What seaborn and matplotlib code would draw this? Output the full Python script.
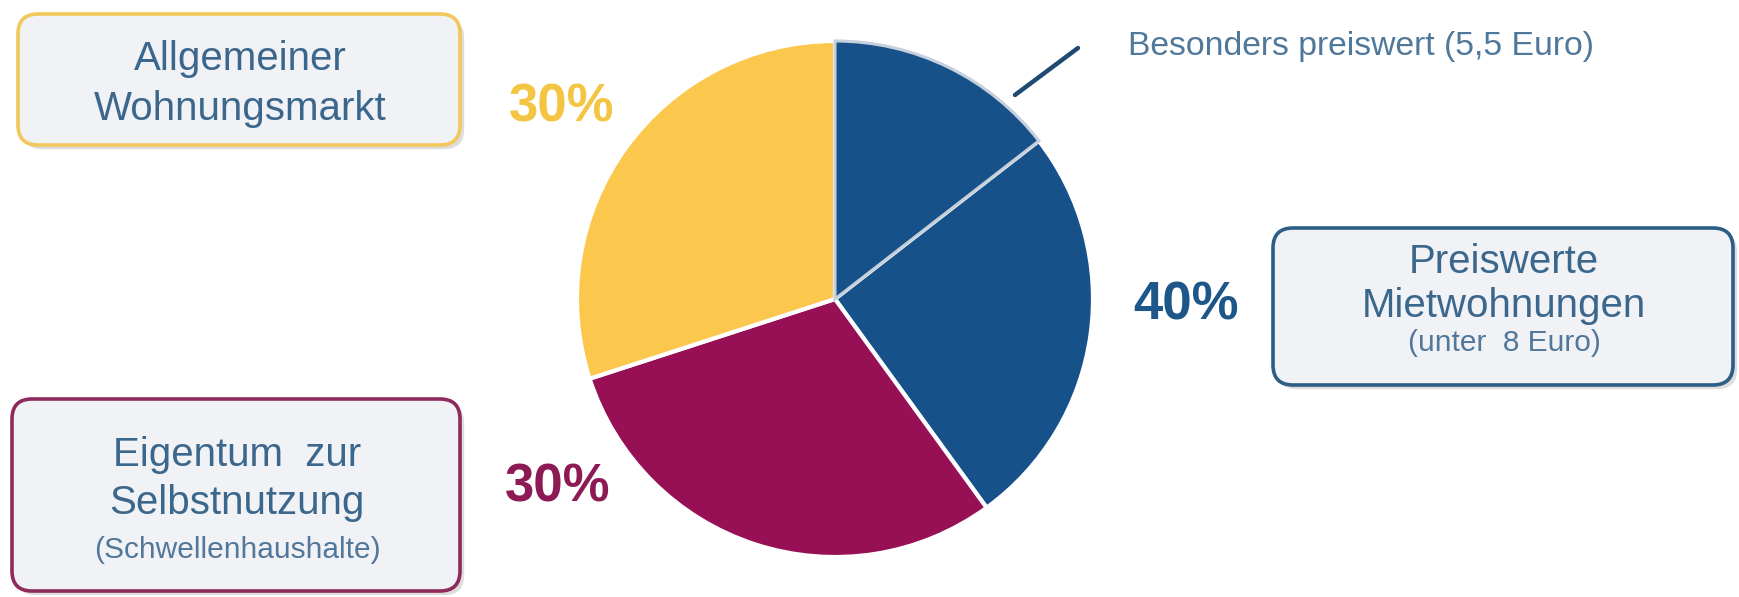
import matplotlib
matplotlib.use("Agg")
import matplotlib.pyplot as plt
import matplotlib.patheffects as pe
from matplotlib.patches import FancyBboxPatch
import seaborn as sns

sns.set_theme(style="white")
plt.rcParams["font.family"] = ["Liberation Sans", "DejaVu Sans"]

# ---- data ----
segments = ["Besonders preiswert (5,5 Euro)", "Preiswerte Mietwohnungen (Rest)",
            "Eigentum zur Selbstnutzung", "Allgemeiner Wohnungsmarkt"]
shares = [14.5, 25.5, 30, 30]
seg_colors = ["#17518A", "#17518A", "#970F55", "#FBC74C"]
pct_labels = ["30%", "40%", "30%"]
pct_colors = ["#F4C443", "#1D5688", "#8E1A55"]
box_titles = ["Allgemeiner\nWohnungsmarkt",
              "Preiswerte\nMietwohnungen",
              "Eigentum  zur\nSelbstnutzung"]
box_subtitles = ["", "(unter  8 Euro)", "(Schwellenhaushalte)"]
box_edges = ["#F2C75C", "#2C5E86", "#8E2A5C"]
callout = "Besonders preiswert (5,5 Euro)"

W, H = 1739, 597
fig = plt.figure(figsize=(W / 100, H / 100), dpi=100)
fig.patch.set_facecolor("white")
ax = fig.add_axes([0, 0, 1, 1])

def fy(y):
    return H - y

wedges, _ = ax.pie(
    shares, colors=seg_colors, startangle=90, counterclock=False,
    center=(835, fy(299)), radius=258, explode=[0, 0, 0.015, 0],
    wedgeprops=dict(edgecolor="white", linewidth=3),
)
wedges[0].set_edgecolor("#C6D0DC")
wedges[0].set_linewidth(2.2)
wedges[0].set_zorder(3)

ax.set_xlim(0, W)
ax.set_ylim(0, H)
ax.set_aspect("equal")
ax.axis("off")

# percentage labels
pct_pos = [(562, 108), (1186, 306), (558, 488)]
for lab, col, (x, y) in zip(pct_labels, pct_colors, pct_pos):
    ax.text(x, fy(y), lab, color=col, fontsize=38, fontweight="bold",
            ha="center", va="center")

# boxes
boxes = [(18, 14, 442, 131), (1273, 228, 460, 157), (12, 399, 448, 192)]
title_pos = [(240, 84), (1504, 284), (237, 479)]
title_spacing = [1.38, 1.22, 1.3]
sub_pos = [None, (1504, 343), (237, 550)]
text_col = "#3B678C"
for (x0, y0, w, h), ec, t, s, tp, sp, ls in zip(boxes, box_edges, box_titles,
                                               box_subtitles, title_pos,
                                               sub_pos, title_spacing):
    patch = FancyBboxPatch((x0, fy(y0 + h)), w, h,
                           boxstyle="round,pad=0,rounding_size=20",
                           facecolor="#F1F2F6", edgecolor=ec, linewidth=2.6,
                           zorder=2)
    patch.set_path_effects([pe.SimplePatchShadow(offset=(3, -3), alpha=0.25,
                                                 shadow_rgbFace="#7a7a7a"),
                            pe.Normal()])
    ax.add_patch(patch)
    ax.text(tp[0], fy(tp[1]), t, color=text_col, fontsize=29, ha="center",
            va="center", linespacing=ls, zorder=4)
    if s:
        ax.text(sp[0], fy(sp[1]), s, color="#51779A", fontsize=21.5,
                ha="center", va="center", zorder=4)

# callout
ax.plot([1015, 1078], [fy(95), fy(48)], color="#1F4A72", linewidth=3.2,
        solid_capstyle="round")
ax.text(1128, fy(47), callout, color="#50789A", fontsize=24.3, ha="left",
        va="center")

fig.savefig("out.png", dpi=100, facecolor="white")
